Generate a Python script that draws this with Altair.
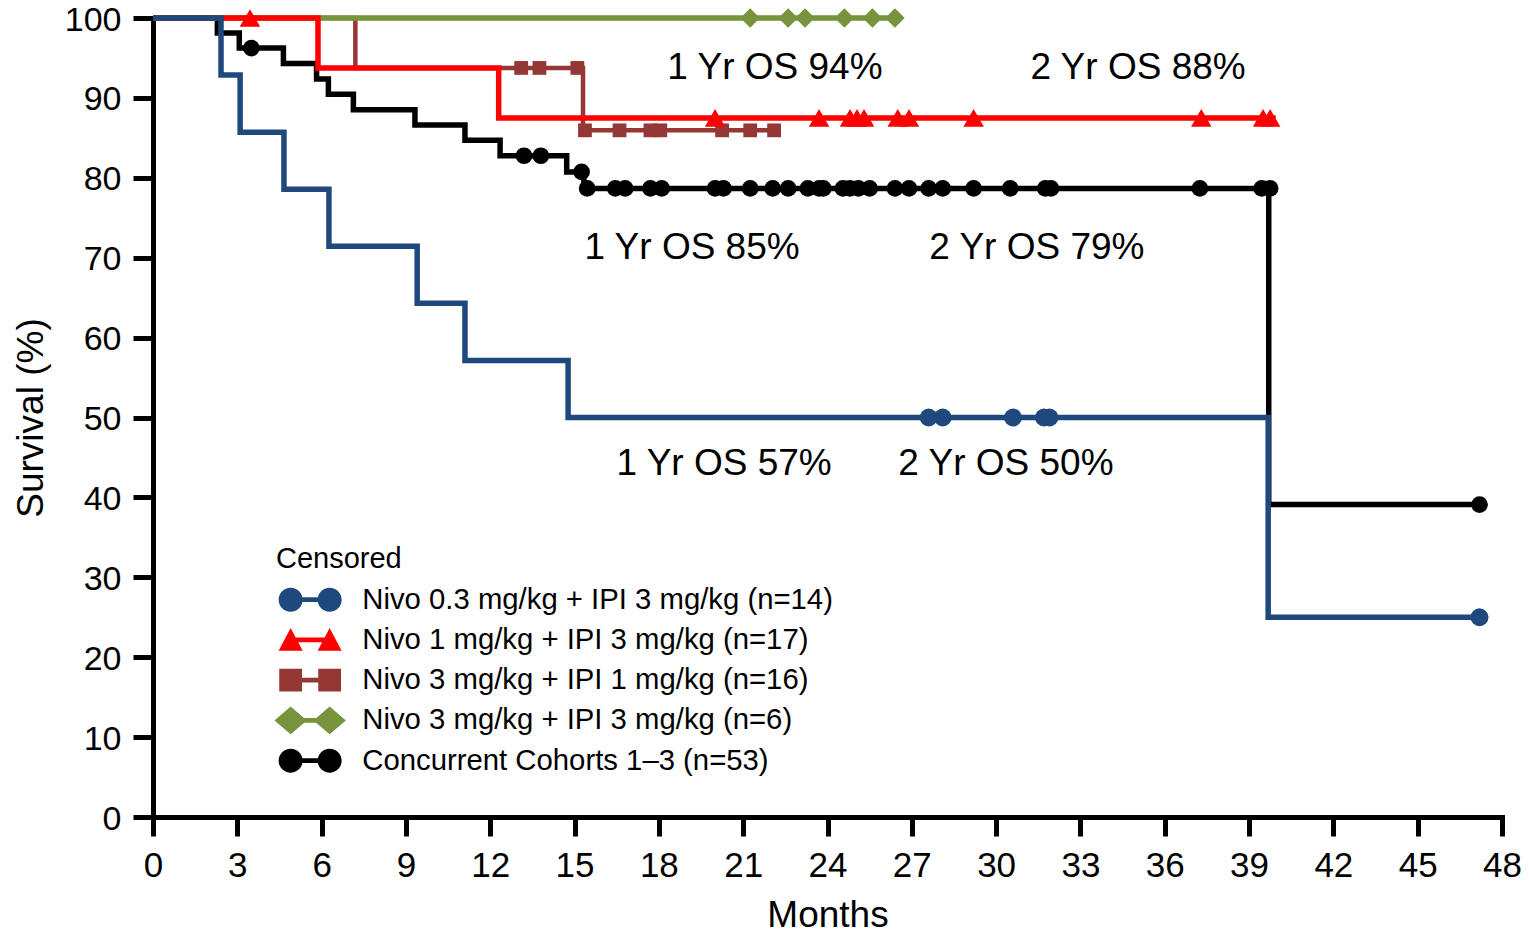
import altair as alt
import pandas as pd

# ---------------- data ----------------
groups = [
    "Nivo 0.3 mg/kg + IPI 3 mg/kg (n=14)",
    "Nivo 1 mg/kg + IPI 3 mg/kg (n=17)",
    "Nivo 3 mg/kg + IPI 1 mg/kg (n=16)",
    "Nivo 3 mg/kg + IPI 3 mg/kg (n=6)",
    "Concurrent Cohorts 1–3 (n=53)",
]
colors = ["#1F497D", "#FF0000", "#953735", "#77933C", "#000000"]

# Kaplan-Meier steps: month at which each survival (%) level begins
blue_t = [0, 2.42, 3.1, 4.66, 6.26, 9.4, 11.1, 14.77, 39.68, 47.2]
blue_s = [100, 92.86, 85.71, 78.57, 71.43, 64.29, 57.14, 50.0, 25.0, 25.0]
blue_ct = [27.6, 28.1, 30.6, 31.7, 31.9, 47.2]
blue_cs = [50, 50, 50, 50, 50, 25]

red_t = [0, 5.87, 12.3, 39.95]
red_s = [100, 93.75, 87.5, 87.5]
red_ct = [3.45, 20.0, 23.7, 24.8, 25.05, 25.3, 26.5, 26.9, 29.2, 37.3, 39.5, 39.75]
red_cs = [100, 87.5, 87.5, 87.5, 87.5, 87.5, 87.5, 87.5, 87.5, 87.5, 87.5, 87.5]

brown_t = [0, 7.2, 15.3, 22.1]
brown_s = [100, 93.75, 85.94, 85.94]
brown_ct = [13.1, 13.75, 15.1, 15.37, 16.6, 17.7, 18.05, 20.25, 21.25, 22.1]
brown_cs = [93.75, 93.75, 93.75, 85.94, 85.94, 85.94, 85.94, 85.94, 85.94, 85.94]

green_t = [0, 26.4]
green_s = [100, 100]
green_ct = [21.25, 22.6, 23.2, 24.6, 25.6, 26.4]
green_cs = [100, 100, 100, 100, 100, 100]

black_t = [0, 2.29, 3.07, 4.64, 5.82, 6.24, 7.13, 9.32, 11.1, 12.35, 14.72, 15.33, 39.7, 47.2]
black_s = [100, 98.11, 96.23, 94.3, 92.38, 90.46, 88.53, 86.61, 84.69, 82.76, 80.74, 78.67, 39.1, 39.1]
black_ct = [3.5, 13.2, 13.8, 15.25, 15.45, 16.45, 16.8, 17.7, 18.1, 20.0, 20.3, 21.25, 22.05,
            22.6, 23.3, 23.7, 23.85, 24.55, 24.8, 25.1, 25.5, 26.4, 26.9, 27.6, 28.1, 29.2,
            30.5, 31.75, 31.95, 37.25, 39.45, 39.75, 47.2]
black_cs = [96.23, 82.76, 82.76, 80.74, 78.67, 78.67, 78.67, 78.67, 78.67, 78.67, 78.67, 78.67,
            78.67, 78.67, 78.67, 78.67, 78.67, 78.67, 78.67, 78.67, 78.67, 78.67, 78.67, 78.67,
            78.67, 78.67, 78.67, 78.67, 78.67, 78.67, 78.67, 78.67, 39.1]

ann_text = ["1 Yr OS 94%", "2 Yr OS 88%", "1 Yr OS 85%", "2 Yr OS 79%", "1 Yr OS 57%", "2 Yr OS 50%"]
ann_t = [22.13, 35.05, 19.18, 31.45, 20.32, 30.35]
ann_s = [93.8, 93.8, 71.2, 71.2, 44.2, 44.2]

x_ticks = [0, 3, 6, 9, 12, 15, 18, 21, 24, 27, 30, 33, 36, 39, 42, 45, 48]
y_ticks = [0, 10, 20, 30, 40, 50, 60, 70, 80, 90, 100]

# ---------------- chart ----------------
FONT = "Liberation Sans"

xscale = alt.Scale(domain=[0, 48], nice=False, zero=False)
yscale = alt.Scale(domain=[0, 100], nice=False)
xaxis = alt.Axis(values=x_ticks, title="Months", grid=False, labelFont=FONT, titleFont=FONT,
                 labelFontSize=35, titleFontSize=37, titleFontWeight="normal",
                 labelColor="black", titleColor="black", domainColor="black", tickColor="black",
                 domainWidth=5, tickWidth=5, tickSize=19, labelPadding=12, titlePadding=14,
                 labelFlush=False, labelOverlap=False, domainCap="square")
yaxis = alt.Axis(values=y_ticks, title="Survival (%)", grid=False, labelFont=FONT, titleFont=FONT,
                 labelFontSize=34, titleFontSize=37, titleFontWeight="normal",
                 labelColor="black", titleColor="black", domainColor="black", tickColor="black",
                 domainWidth=5, tickWidth=5, tickSize=20, labelPadding=12, titlePadding=14,
                 labelOffset=2, labelFlush=False, labelOverlap=False, domainCap="square")
X = alt.X("t:Q", scale=xscale, axis=xaxis)
Y = alt.Y("s:Q", scale=yscale, axis=yaxis)

series = {
    "blue": (blue_t, blue_s, blue_ct, blue_cs, colors[0], "circle", 320),
    "red": (red_t, red_s, red_ct, red_cs, colors[1], "triangle-up", 420),
    "brown": (brown_t, brown_s, brown_ct, brown_cs, colors[2], "square", 190),
    "green": (green_t, green_s, green_ct, green_cs, colors[3], "diamond", 380),
    "black": (black_t, black_s, black_ct, black_cs, colors[4], "circle", 280),
}

line_order = ["black", "brown", "green", "red", "blue"]
point_order = ["black", "green", "brown", "red", "blue"]

layers = []
for k in line_order:
    t, s, ct, cs, col, shp, sz = series[k]
    df = pd.DataFrame({"t": t, "s": s})
    layers.append(
        alt.Chart(df).mark_line(interpolate="step-after", color=col,
                                strokeWidth=4.5 if k == "brown" else 5.5,
                                strokeJoin="miter", clip=False).encode(x=X, y=Y)
    )
for k in point_order:
    t, s, ct, cs, col, shp, sz = series[k]
    df = pd.DataFrame({"t": ct, "s": cs})
    layers.append(
        alt.Chart(df).mark_point(filled=True, shape=shp, size=sz, color=col, opacity=1,
                                 strokeWidth=0).encode(x=X, y=Y)
    )

ann_df = pd.DataFrame({"t": ann_t, "s": ann_s, "label": ann_text})
layers.append(
    alt.Chart(ann_df).mark_text(font=FONT, fontSize=37, color="black", align="center",
                                baseline="middle").encode(x=X, y=Y, text="label:N")
)


# legend-only layer: dumbbell symbols built from SVG paths (unit = 12 px)
def circ(cx, r):
    k = 0.5523 * r
    return (f"M{cx - r},0 C{cx - r},{-k} {cx - k},{-r} {cx},{-r} "
            f"C{cx + k},{-r} {cx + r},{-k} {cx + r},0 "
            f"C{cx + r},{k} {cx + k},{r} {cx},{r} "
            f"C{cx - k},{r} {cx - r},{k} {cx - r},0 Z ")


def tri(cx):
    return f"M{cx - 1},0.9 L{cx},-1 L{cx + 1},0.9 Z "


def sq(cx):
    h = 0.95
    return f"M{cx - h},{-h} L{cx + h},{-h} L{cx + h},{h} L{cx - h},{h} Z "


def dia(cx):
    return f"M{cx - 1.35},0 L{cx},-1.15 L{cx + 1.35},0 L{cx},1.15 Z "


BAR = "M0,-0.2 L3.25,-0.2 L3.25,0.2 L0,0.2 Z "
legend_paths = [
    circ(0, 1) + BAR + circ(3.25, 1),
    tri(0) + BAR + tri(3.25),
    sq(0) + BAR + sq(3.25),
    dia(0) + BAR + dia(3.25),
    circ(0, 1) + BAR + circ(3.25, 1),
]

leg = alt.Legend(orient="none", legendX=123, legendY=527, title="Censored", padding=0,
                 titleFont=FONT, titleFontSize=29, titleFontWeight="normal", titleColor="black",
                 titlePadding=11, labelFont=FONT, labelFontSize=29.3, labelColor="black",
                 labelLimit=0, labelOffset=57, rowPadding=10.25, symbolSize=576,
                 symbolStrokeWidth=0, symbolOpacity=1, direction="vertical")
leg_df = pd.DataFrame({"group": groups})
layers.append(
    alt.Chart(leg_df).mark_point(filled=True, opacity=0, size=576).encode(
        color=alt.Color("group:N", scale=alt.Scale(domain=groups, range=colors), sort=groups, legend=leg),
        shape=alt.Shape("group:N", scale=alt.Scale(domain=groups, range=legend_paths), sort=groups, legend=leg),
    )
)

chart = alt.layer(*layers).properties(
    width=1349, height=799,
    autosize=alt.AutoSizeParams(type="none"),
    padding={"left": 153, "top": 18, "right": 27, "bottom": 119},
    background="white",
).configure_view(stroke=None)

chart.save("out.html", embed_options={"renderer": "svg", "actions": False})
